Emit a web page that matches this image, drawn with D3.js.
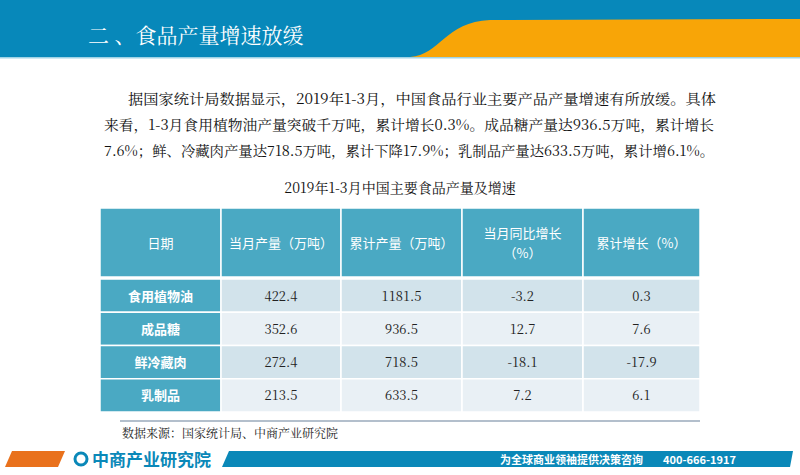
<!DOCTYPE html>
<html><head><meta charset="utf-8">
<script src="https://cdn.jsdelivr.net/npm/d3@7"></script>
<style>body{margin:0;background:#fff}</style></head>
<body><div id="chart"></div>
<script>
const headers = ["日期", "当月产量（万吨）", "累计产量（万吨）", "当月同比增长\n（%）", "累计增长（%）"];
const categories = ["食用植物油", "成品糖", "鲜冷藏肉", "乳制品"];
const monthOutput = ["422.4", "352.6", "272.4", "213.5"];
const cumOutput = ["1181.5", "936.5", "718.5", "633.5"];
const monthGrowth = ["-3.2", "12.7", "-18.1", "7.2"];
const cumGrowth = ["0.3", "7.6", "-17.9", "6.1"];
const paragraph = [
  "据国家统计局数据显示，2019年1-3月，中国食品行业主要产品产量增速有所放缓。具体",
  "来看，1-3月食用植物油产量突破千万吨，累计增长0.3%。成品糖产量达936.5万吨，累计增长",
  "7.6%；鲜、冷藏肉产量达718.5万吨，累计下降17.9%；乳制品产量达633.5万吨，累计增6.1%。"
];

const W = 800, H = 475;
const svg = d3.select("#chart").append("svg").attr("width", W).attr("height", H)
  .style("font-family", "'Noto Sans CJK SC', sans-serif");

// header band
svg.append("rect").attr("x", 0).attr("y", 0).attr("width", W).attr("height", 57).attr("fill", "#0788ba");
svg.append("path").attr("d", "M410,57 C440,55 445,22 490,20 L800,19 L800,57 Z").attr("fill", "#f8a507");
svg.append("rect").attr("x", 0).attr("y", 57).attr("width", W).attr("height", 1.5).attr("fill", "#9fd3e6");
svg.append("text").attr("x", 88).attr("y", 43).attr("fill", "#fff").attr("font-size", 21)
  .attr("font-family", "'Noto Serif CJK SC','Noto Sans CJK SC'").text("二 、食品产量增速放缓");

// paragraph
const serif = "'Noto Serif CJK SC','Noto Sans CJK SC'";
svg.selectAll("text.p").data(paragraph).enter().append("text")
  .attr("x", (d, i) => i === 0 ? 128 : 104).attr("y", (d, i) => 104 + i * 26)
  .attr("font-size", 14).attr("fill", "#111").attr("font-family", serif)
  .attr("textLength", (d, i) => i === 0 ? 588 : 610).attr("lengthAdjust", "spacingAndGlyphs")
  .text(d => d);
svg.append("text").attr("x", 400).attr("y", 193).attr("text-anchor", "middle")
  .attr("font-size", 14).attr("fill", "#111").attr("font-family", serif).text("2019年1-3月中国主要食品产量及增速");

// table
const colEdges = [100, 221, 341, 462, 583, 700];
const x = i => colEdges[i];
const rowY = d3.scaleBand().domain(categories).range([279, 412]);
const headTop = 208, headBot = 277;
const rows = categories.map((c, i) => [c, monthOutput[i], cumOutput[i], monthGrowth[i], cumGrowth[i]]);

headers.forEach((h, j) => {
  svg.append("rect").attr("x", x(j)).attr("y", headTop).attr("width", x(j + 1) - x(j))
    .attr("height", headBot - headTop).attr("fill", "#4aa9c3").attr("stroke", "#fff").attr("stroke-width", 1.5);
  const lines = h.split("\n");
  lines.forEach((l, k) => {
    svg.append("text").attr("x", (x(j) + x(j + 1)) / 2)
      .attr("y", (headTop + headBot) / 2 + 5 + (k - (lines.length - 1) / 2) * 20)
      .attr("text-anchor", "middle").attr("fill", "#fff").attr("font-size", 13).text(l);
  });
});
svg.append("rect").attr("x", 100).attr("y", headBot).attr("width", 600).attr("height", 2).attr("fill", "#fff");

rows.forEach((r, i) => {
  r.forEach((v, j) => {
    const y0 = rowY(r[0]);
    svg.append("rect").attr("x", x(j)).attr("y", y0).attr("width", x(j + 1) - x(j))
      .attr("height", rowY.bandwidth())
      .attr("fill", j === 0 ? "#4aa9c3" : (i % 2 ? "#e9f0f5" : "#d2e3eb"))
      .attr("stroke", "#fff").attr("stroke-width", 1.5);
    svg.append("text").attr("x", (x(j) + x(j + 1)) / 2).attr("y", y0 + rowY.bandwidth() / 2 + 5)
      .attr("text-anchor", "middle").attr("font-size", 13)
      .attr("fill", j === 0 ? "#fff" : "#222").attr("font-weight", j === 0 ? "bold" : null)
      .attr("font-family", j === 0 ? null : serif).text(v);
  });
});

svg.append("line").attr("x1", 120).attr("x2", 700).attr("y1", 421).attr("y2", 421)
  .attr("stroke", "#9aaabb").attr("stroke-width", 1.5);
svg.append("text").attr("x", 122).attr("y", 438).attr("font-size", 12).attr("fill", "#222")
  .attr("font-family", serif).text("数据来源：国家统计局、中商产业研究院");

// footer band
svg.append("path").attr("d", "M5,467 L58,467 L65,451 L12,451 Z").attr("fill", "#e9711c");
svg.append("path").attr("d", "M222,467 L790,467 L793,451 L229,451 Z").attr("fill", "#0a88b8");
svg.append("circle").attr("cx", 81).attr("cy", 459).attr("r", 6).attr("fill", "none")
  .attr("stroke", "#0a88b8").attr("stroke-width", 3);
svg.append("text").attr("x", 92).attr("y", 466).attr("font-size", 17).attr("font-weight", "bold")
  .attr("fill", "#0a88b8").text("中商产业研究院");
svg.append("text").attr("x", 643).attr("y", 464).attr("text-anchor", "end").attr("font-size", 11)
  .attr("font-weight", "bold").attr("fill", "#fff").text("为全球商业领袖提供决策咨询");
svg.append("text").attr("x", 736).attr("y", 464).attr("text-anchor", "end").attr("font-size", 11)
  .attr("font-weight", "bold").attr("fill", "#fff").text("400-666-1917");
</script></body></html>
